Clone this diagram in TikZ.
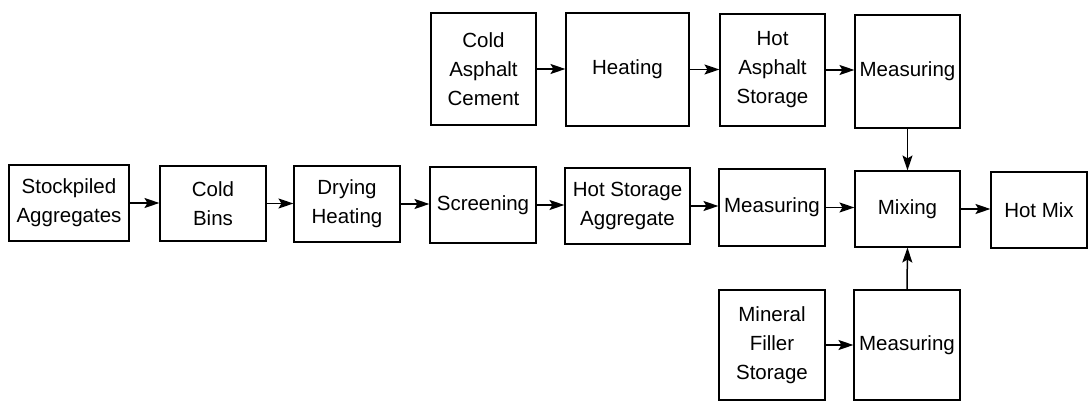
\documentclass[tikz,border=0pt]{standalone}
\usepackage{fontspec}
\setmainfont{Liberation Sans}
\usetikzlibrary{arrows.meta}
\begin{document}
\begin{tikzpicture}[x=1pt,y=-1pt,
  box/.style={draw, line width=1.1pt, inner sep=0pt, align=center,
    font=\fontsize{20.5}{29}\selectfont},
  arr/.style={line width=1.5pt, -{Stealth[length=15pt,width=10pt,inset=3pt]}}]
\useasboundingbox (0,0) rectangle (1088,401);
% middle row
\node[box, minimum width=120, minimum height=76] (sa) at (69,203) {Stockpiled\\Aggregates};
\node[box, minimum width=106, minimum height=75] (cb) at (213,203.5) {Cold\\Bins};
\node[box, minimum width=106, minimum height=76] (dh) at (347,204) {Drying\\Heating};
\node[box, minimum width=106, minimum height=76] (scr) at (483,205) {Screening};
\node[box, minimum width=125, minimum height=76] (hsa) at (627.5,206) {Hot Storage\\Aggregate};
\node[box, minimum width=106, minimum height=77] (mea) at (772,207.5) {Measuring};
\node[box, minimum width=105, minimum height=76] (mix) at (907.5,209) {Mixing};
\node[box, minimum width=96, minimum height=76] (hm) at (1039,210) {Hot Mix};
% top row
\node[box, minimum width=105, minimum height=112] (cac) at (483.5,69) {Cold\\Asphalt\\Cement};
\node[box, minimum width=123, minimum height=113] (heat) at (627.5,69.5) {Heating};
\node[box, minimum width=105, minimum height=112] (has) at (772.5,70) {Hot\\Asphalt\\Storage};
\node[box, minimum width=105, minimum height=113] (meat) at (907.5,71.5) {Measuring};
% bottom row
\node[box, minimum width=106, minimum height=110] (mfs) at (772,345) {Mineral\\Filler\\Storage};
\node[box, minimum width=106, minimum height=110] (meab) at (907,345) {Measuring};
% connectors
\draw[arr] (sa.east) -- (sa.east -| cb.west);
\draw[arr] (cb.east) -- (cb.east -| dh.west);
\draw[arr] (dh.east) -- (dh.east -| scr.west);
\draw[arr] (scr.east) -- (scr.east -| hsa.west);
\draw[arr] (hsa.east) -- (hsa.east -| mea.west);
\draw[arr] (mea.east) -- (mea.east -| mix.west);
\draw[arr] (mix.east) -- (mix.east -| hm.west);
\draw[arr] (cac.east) -- (cac.east -| heat.west);
\draw[arr] (heat.east) -- (heat.east -| has.west);
\draw[arr] (has.east) -- (has.east -| meat.west);
\draw[arr] (mfs.east) -- (mfs.east -| meab.west);
\draw[arr] (meat.south) -- (mix.north);
\draw[arr] (meab.north) -- (mix.south);
\end{tikzpicture}
\end{document}
